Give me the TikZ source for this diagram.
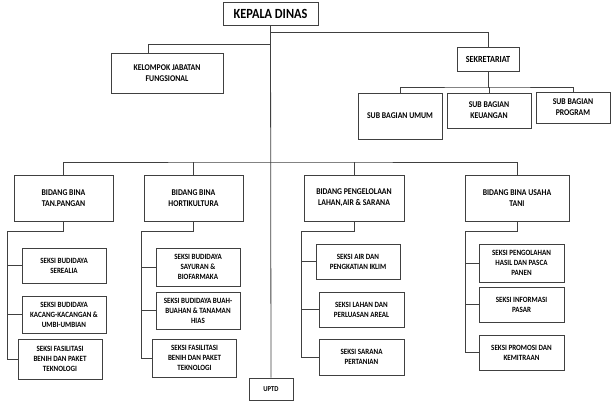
\documentclass[tikz,border=0pt]{standalone}
\usepackage{fontspec}
\setmainfont{Carlito}[FakeStretch=0.88, BoldFont={Carlito Bold}, BoldFeatures={FakeStretch=0.88}]
\usetikzlibrary{positioning}

\begin{document}
\begin{tikzpicture}[
        x=1pt, y=-1pt,
        box/.style={rectangle, draw=black!75, line width=0.8pt, align=center, inner sep=2pt},
        unit/.style={box, font=\fontsize{8.8}{11}\selectfont\bfseries},
        seksi/.style={box, minimum width=84pt, font=\fontsize{8}{10}\selectfont\bfseries},
        link/.style={draw=black!75, line width=0.8pt}
    ]
        \useasboundingbox (0,0) rectangle (612,407);

        \node[box, minimum width=95pt, minimum height=23pt, font=\fontsize{14}{16}\selectfont\bfseries] (kadis) at (270.5,13.5) {KEPALA DINAS};
        \node[unit, minimum width=112pt, minimum height=40pt] (jafung) at (167,73) {KELOMPOK JABATAN\\FUNGSIONAL};
        \node[unit, minimum width=62pt, minimum height=24pt, font=\fontsize{9.3}{11}\selectfont\bfseries] (sekr) at (488,59) {SEKRETARIAT};
        \node[unit, minimum width=84pt, minimum height=46pt] (umum) at (400,116) {SUB BAGIAN UMUM};
        \node[unit, minimum width=84pt, minimum height=35pt] (keu) at (489,110.5) {SUB BAGIAN\\KEUANGAN};
        \node[unit, minimum width=74pt, minimum height=31pt] (prog) at (573,107.5) {SUB BAGIAN\\PROGRAM};

        \node[unit, minimum width=99pt, minimum height=46pt] (b1) at (63.5,198) {BIDANG BINA\\TAN.PANGAN};
        \node[unit, minimum width=99pt, minimum height=46pt] (b2) at (193.5,198) {BIDANG BINA\\HORTIKULTURA};
        \node[unit, minimum width=100pt, minimum height=46pt] (b3) at (354,198) {BIDANG PENGELOLAAN\\LAHAN,AIR \& SARANA};
        \node[unit, minimum width=104pt, minimum height=46pt] (b4) at (517,198) {BIDANG BINA USAHA\\TANI};

        \node[seksi, minimum height=35pt] (s11) at (64,265.5) {SEKSI BUDIDAYA\\SEREALIA};
        \node[seksi, minimum height=37pt] (s12) at (64,314.5) {SEKSI BUDIDAYA\\KACANG-KACANGAN \&\\UMBI-UMBIAN};
        \node[seksi, minimum height=40pt] (s13) at (60,359) {SEKSI FASILITASI\\BENIH DAN PAKET\\TEKNOLOGI};

        \node[seksi, minimum height=38pt] (s21) at (198,267) {SEKSI BUDIDAYA\\SAYURAN \&\\BIOFARMAKA};
        \node[seksi, minimum height=37pt] (s22) at (198,310.5) {SEKSI BUDIDAYA BUAH-\\BUAHAN \& TANAMAN\\HIAS};
        \node[seksi, minimum height=38pt] (s23) at (194.5,358) {SEKSI FASILITASI\\BENIH DAN PAKET\\TEKNOLOGI};

        \node[seksi, minimum height=35pt] (s31) at (358,261.5) {SEKSI AIR DAN\\PENGKATIAN IKLIM};
        \node[seksi, minimum width=85pt, minimum height=35pt] (s32) at (361.5,309.5) {SEKSI LAHAN DAN\\PERLUASAN AREAL};
        \node[seksi, minimum width=85pt, minimum height=36pt] (s33) at (361.5,357) {SEKSI SARANA\\PERTANIAN};

        \node[seksi, minimum width=85pt, minimum height=38pt] (s41) at (521.5,263) {SEKSI PENGOLAHAN\\HASIL DAN PASCA\\PANEN};
        \node[seksi, minimum width=85pt, minimum height=35pt] (s42) at (521.5,304.5) {SEKSI INFORMASI\\PASAR};
        \node[seksi, minimum width=85pt, minimum height=35pt] (s43) at (521.5,352.5) {SEKSI PROMOSI DAN\\KEMITRAAN};

        \node[box, minimum width=44pt, minimum height=22pt, font=\fontsize{7.5}{8}\selectfont\bfseries] (uptd) at (271,389) {UPTD};

        % main line and branches
        \coordinate (k1) at (270.5,32);
        \coordinate (k2) at (270.5,44);
        \coordinate (k3) at (270.5,162);
        \coordinate (sk) at (488,87);
        \draw[link] (kadis.south) -- (uptd.north);
        \draw[link] (k1) -| (sekr.north);
        \draw[link] (k2) -| ([xshift=-19pt]jafung.north);
        \draw[link] (sekr.south) -- (sk);
        \draw[link] (umum.north) |- (sk) -| (prog.north);
        \draw[link] (sk) -- (keu.north |- sk) -- (keu.north);
        \draw[link] (b1.north) |- (k3) -| (b4.north);
        \draw[link] (b2.north) -- (b2.north |- k3);
        \draw[link] (b3.north) -- (b3.north |- k3);

        % bidang to seksi
        \coordinate (sp1) at (7,231);
        \coordinate (sp2) at (141,231);
        \coordinate (sp3) at (301,231);
        \coordinate (sp4) at (465,231);
        \foreach \b/\p in {b1/sp1, b2/sp2, b3/sp3, b4/sp4}
            \draw[link] (\b.south) |- (\p);
        \draw[link] (sp1) |- (s13.west);
        \draw[link] (sp2) |- (s23.west);
        \draw[link] (sp3) |- (s33.west);
        \draw[link] (sp4) |- (s43.west);
        \foreach \s/\p in {s11/sp1, s12/sp1, s21/sp2, s22/sp2, s31/sp3, s32/sp3, s41/sp4, s42/sp4}
            \draw[link] (\p |- \s.west) -- (\s.west);
    \end{tikzpicture}
\end{document}
